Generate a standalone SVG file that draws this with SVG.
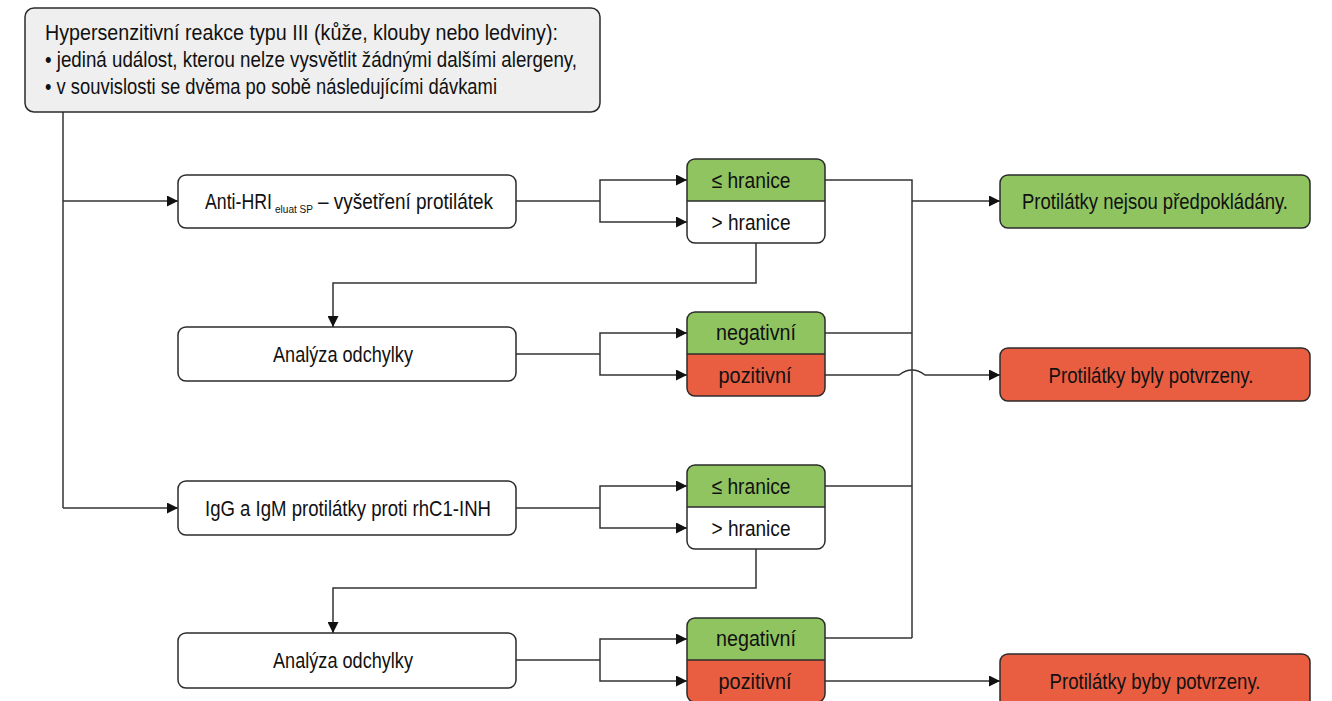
<svg xmlns="http://www.w3.org/2000/svg" width="1332" height="701" viewBox="0 0 1332 701">
<defs>
<marker id="arr" viewBox="0 0 11 11" refX="11" refY="5.5" markerWidth="11" markerHeight="11" markerUnits="userSpaceOnUse" orient="auto">
<path d="M0,0 L11,5.5 L0,11 z" fill="#111"/>
</marker>
<style>
.box{stroke:#2b2b2b;stroke-width:1.5;}
.w{fill:#ffffff;}
.g{fill:#8fc461;}
.r{fill:#e95e41;}
.gray{fill:#efefef;}
.t{font-family:"Liberation Sans",Arial,sans-serif;font-size:22px;fill:#111;}
.c{text-anchor:middle;}
.ln{fill:none;stroke:#333;stroke-width:1.5;}
.la{fill:none;stroke:#333;stroke-width:1.5;marker-end:url(#arr);}
</style>
</defs>
<rect width="1332" height="701" fill="#ffffff"/>

<g id="connectors">
<path class="ln" d="M63,112 V508"/>
<path class="la" d="M63,201 H178"/>
<path class="la" d="M63,508 H178"/>
<path class="ln" d="M516,201 H600"/>
<path class="la" d="M600,201 V180 H687"/>
<path class="la" d="M600,201 V222 H687"/>
<path class="ln" d="M825,180 H912 V638"/>
<path class="la" d="M912,201 H1000"/>
<path class="la" d="M756,243 V283 H333 V327"/>
<path class="ln" d="M516,354 H600"/>
<path class="la" d="M600,354 V333 H687"/>
<path class="la" d="M600,354 V375 H687"/>
<path class="ln" d="M825,333 H912"/>
<path class="la" d="M825,375 H899 C904,371 907,370 912,370 C917,370 920,371 925,375 H1000"/>
<path class="ln" d="M516,508 H600"/>
<path class="la" d="M600,508 V486 H687"/>
<path class="la" d="M600,508 V528 H687"/>
<path class="ln" d="M825,486 H912"/>
<path class="la" d="M756,549 V588 H333 V633"/>
<path class="ln" d="M516,660 H600"/>
<path class="la" d="M600,660 V639 H687"/>
<path class="la" d="M600,660 V681 H687"/>
<path class="ln" d="M825,638 H912"/>
<path class="la" d="M825,681 H1000"/>
</g>

<g id="start">
<rect class="box gray" x="25" y="8" width="575" height="104" rx="9"/>
<text class="t" transform="translate(45,40) scale(0.82,1)" textLength="625.6" lengthAdjust="spacingAndGlyphs">Hypersenzitivní reakce typu III (kůže, klouby nebo ledviny):</text>
<text class="t" transform="translate(45,67) scale(0.82,1)" textLength="648.8" lengthAdjust="spacingAndGlyphs">• jediná událost, kterou nelze vysvětlit žádnými dalšími alergeny,</text>
<text class="t" transform="translate(45,94) scale(0.82,1)" textLength="551.2" lengthAdjust="spacingAndGlyphs">• v souvislosti se dvěma po sobě následujícími dávkami</text>
</g>

<g id="anti-hri">
<rect class="box w" x="178" y="175" width="338" height="53" rx="8"/>
<text class="t" transform="translate(205,209) scale(0.82,1)" textLength="81.7" lengthAdjust="spacingAndGlyphs">Anti-HRI</text>
<text class="t" transform="translate(275,213) scale(0.82,1)" style="font-size:11px" textLength="46.3" lengthAdjust="spacingAndGlyphs">eluat SP</text>
<text class="t" transform="translate(318,209) scale(0.82,1)" textLength="213.4" lengthAdjust="spacingAndGlyphs">– vyšetření protilátek</text>
</g>

<g id="result1">
<path class="g" d="M695,159 H817 Q825,159 825,167 V201 H687 V167 Q687,159 695,159 Z"/>
<path class="w" d="M687,201 H825 V235 Q825,243 817,243 H695 Q687,243 687,235 Z"/>
<rect x="687" y="159" width="138" height="84" rx="8" fill="none" stroke="#2b2b2b" stroke-width="1.5"/>
<line x1="687" y1="201" x2="825" y2="201" stroke="#2b2b2b" stroke-width="1.5"/>
<text class="t c" transform="translate(751,188) scale(0.82,1)" textLength="96.3" lengthAdjust="spacingAndGlyphs">≤ hranice</text>
<text class="t c" transform="translate(751,230) scale(0.82,1)" textLength="96.3" lengthAdjust="spacingAndGlyphs">&gt; hranice</text>
</g>

<g id="analyza1">
<rect class="box w" x="178" y="327" width="338" height="54" rx="8"/>
<text class="t c" transform="translate(343,362) scale(0.82,1)" textLength="170.7" lengthAdjust="spacingAndGlyphs">Analýza odchylky</text>
</g>

<g id="result2">
<path class="g" d="M695,312 H817 Q825,312 825,320 V354 H687 V320 Q687,312 695,312 Z"/>
<path class="r" d="M687,354 H825 V388 Q825,396 817,396 H695 Q687,396 687,388 Z"/>
<rect x="687" y="312" width="138" height="84" rx="8" fill="none" stroke="#2b2b2b" stroke-width="1.5"/>
<line x1="687" y1="354" x2="825" y2="354" stroke="#2b2b2b" stroke-width="1.5"/>
<text class="t c" transform="translate(756,340) scale(0.82,1)" textLength="97.6" lengthAdjust="spacingAndGlyphs">negativní</text>
<text class="t c" transform="translate(755,383) scale(0.82,1)" textLength="89" lengthAdjust="spacingAndGlyphs">pozitivní</text>
</g>

<g id="igg">
<rect class="box w" x="178" y="481" width="338" height="54" rx="8"/>
<text class="t c" transform="translate(348,516) scale(0.82,1)" textLength="348.8" lengthAdjust="spacingAndGlyphs">IgG a IgM protilátky proti rhC1-INH</text>
</g>

<g id="result3">
<path class="g" d="M695,465 H817 Q825,465 825,473 V507 H687 V473 Q687,465 695,465 Z"/>
<path class="w" d="M687,507 H825 V541 Q825,549 817,549 H695 Q687,549 687,541 Z"/>
<rect x="687" y="465" width="138" height="84" rx="8" fill="none" stroke="#2b2b2b" stroke-width="1.5"/>
<line x1="687" y1="507" x2="825" y2="507" stroke="#2b2b2b" stroke-width="1.5"/>
<text class="t c" transform="translate(751,494) scale(0.82,1)" textLength="96.3" lengthAdjust="spacingAndGlyphs">≤ hranice</text>
<text class="t c" transform="translate(751,536) scale(0.82,1)" textLength="96.3" lengthAdjust="spacingAndGlyphs">&gt; hranice</text>
</g>

<g id="analyza2">
<rect class="box w" x="178" y="633" width="338" height="55" rx="8"/>
<text class="t c" transform="translate(343,668) scale(0.82,1)" textLength="170.7" lengthAdjust="spacingAndGlyphs">Analýza odchylky</text>
</g>

<g id="result4">
<path class="g" d="M695,618 H817 Q825,618 825,626 V660 H687 V626 Q687,618 695,618 Z"/>
<path class="r" d="M687,660 H825 V694 Q825,702 817,702 H695 Q687,702 687,694 Z"/>
<rect x="687" y="618" width="138" height="84" rx="8" fill="none" stroke="#2b2b2b" stroke-width="1.5"/>
<line x1="687" y1="660" x2="825" y2="660" stroke="#2b2b2b" stroke-width="1.5"/>
<text class="t c" transform="translate(756,646) scale(0.82,1)" textLength="97.6" lengthAdjust="spacingAndGlyphs">negativní</text>
<text class="t c" transform="translate(755,689) scale(0.82,1)" textLength="89" lengthAdjust="spacingAndGlyphs">pozitivní</text>
</g>

<g id="out-neg">
<rect class="box g" x="1000" y="175" width="310" height="53" rx="8"/>
<text class="t c" transform="translate(1155,209) scale(0.82,1)" textLength="324.4" lengthAdjust="spacingAndGlyphs">Protilátky nejsou předpokládány.</text>
</g>

<g id="out-pos1">
<rect class="box r" x="1000" y="348" width="310" height="53" rx="8"/>
<text class="t c" transform="translate(1151,383) scale(0.82,1)" textLength="250" lengthAdjust="spacingAndGlyphs">Protilátky byly potvrzeny.</text>
</g>

<g id="out-pos2">
<rect class="box r" x="1000" y="654" width="310" height="54" rx="8"/>
<text class="t c" transform="translate(1155,689) scale(0.82,1)" textLength="257.3" lengthAdjust="spacingAndGlyphs">Protilátky byby potvrzeny.</text>
</g>
</svg>
